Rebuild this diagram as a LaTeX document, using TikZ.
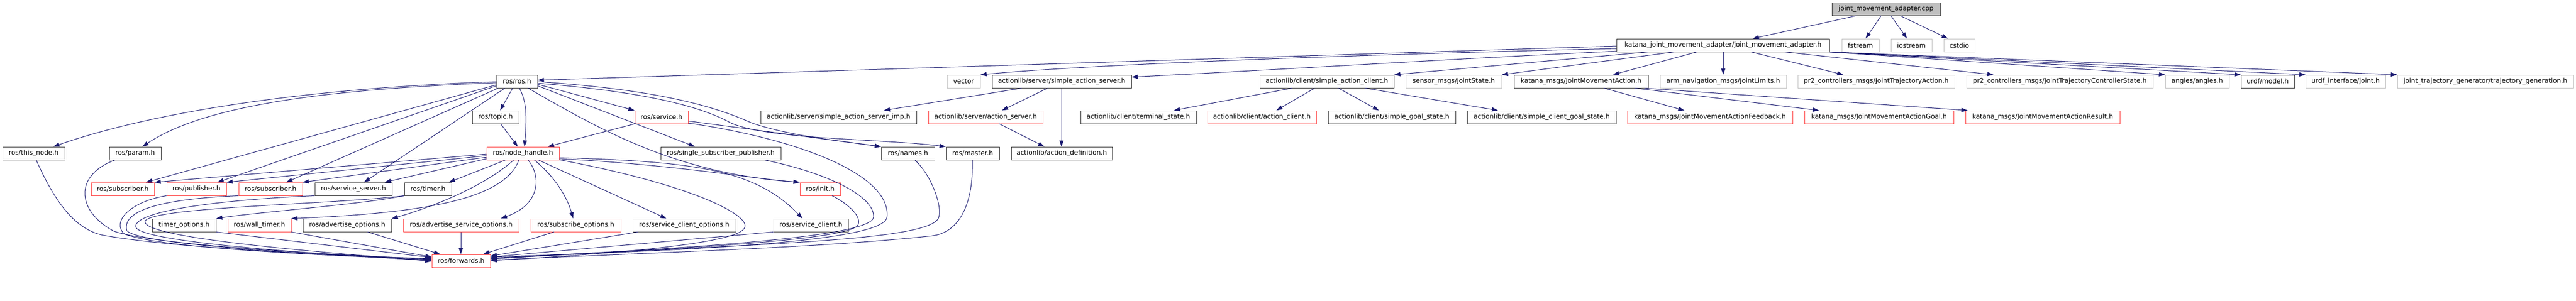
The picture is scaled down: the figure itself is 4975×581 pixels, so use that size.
\documentclass[tikz,border=0pt]{standalone}
\usepackage{fontspec}
\setmainfont{DejaVu Sans}
\usetikzlibrary{arrows.meta,calc}
\definecolor{edgec}{HTML}{191970}
\definecolor{redc}{HTML}{FF3A3A}
\definecolor{extc}{HTML}{C0C0C0}
\definecolor{blkc}{HTML}{303030}
\definecolor{rootfill}{HTML}{BFBFBF}
\newcommand{\nd}[6]{\node[#5, minimum width={(#3-#2)*1pt}] (#1) at ({(#2+#3)/2},{#4+12.5}) {#6};}
\begin{document}
\begin{tikzpicture}[x=1pt,y=-1pt,
  box/.style={draw, rectangle, minimum height=25pt, inner sep=0pt, line width=1pt,
    font=\fontsize{12.6pt}{15pt}\selectfont},
  blk/.style={box, draw=blkc},
  redb/.style={box, draw=redc},
  ext/.style={box, draw=extc},
  root/.style={box, draw=blkc, fill=rootfill},
  dep/.style={draw=edgec, line width=1pt, -{Triangle[length=12pt,width=8pt]}, edgec, line join=round}]
\useasboundingbox[fill=white] (0,0) rectangle (4975,581);
% row 0
\nd{cpp}{3538}{3747}{5}{root}{joint\_movement\_adapter.cpp}
% row 1
\nd{jma}{3122}{3533}{75}{blk}{katana\_joint\_movement\_adapter/joint\_movement\_adapter.h}
\nd{fstream}{3557}{3629}{75}{ext}{fstream}
\nd{iostream}{3652}{3731}{75}{ext}{iostream}
\nd{cstdio}{3754}{3814}{75}{ext}{cstdio}
% row 2
\nd{ros}{959}{1038}{145}{blk}{ros/ros.h}
\nd{vector}{1829}{1893}{145}{ext}{vector}
\nd{sas}{1916}{2185}{145}{blk}{actionlib/server/simple\_action\_server.h}
\nd{sac}{2433}{2692}{145}{blk}{actionlib/client/simple\_action\_client.h}
\nd{jstate}{2715}{2900}{145}{ext}{sensor\_msgs/JointState.h}
\nd{jmact}{2924}{3183}{145}{blk}{katana\_msgs/JointMovementAction.h}
\nd{jlim}{3206}{3450}{145}{ext}{arm\_navigation\_msgs/JointLimits.h}
\nd{jta}{3472}{3775}{145}{ext}{pr2\_controllers\_msgs/JointTrajectoryAction.h}
\nd{jtcs}{3798}{4158}{145}{ext}{pr2\_controllers\_msgs/JointTrajectoryControllerState.h}
\nd{angles}{4182}{4305}{145}{ext}{angles/angles.h}
\nd{urdfm}{4328}{4431}{145}{blk}{urdf/model.h}
\nd{urdfj}{4453}{4607}{145}{ext}{urdf\_interface/joint.h}
\nd{jtg}{4630}{4970}{145}{ext}{joint\_trajectory\_generator/trajectory\_generation.h}
% row 3
\nd{topic}{912}{1002}{214}{blk}{ros/topic.h}
\nd{service}{1226}{1329}{214}{redb}{ros/service.h}
\nd{sasimp}{1469}{1770}{214}{blk}{actionlib/server/simple\_action\_server\_imp.h}
\nd{aserver}{1793}{2014}{214}{redb}{actionlib/server/action\_server.h}
\nd{tstate}{2087}{2310}{214}{blk}{actionlib/client/terminal\_state.h}
\nd{aclient}{2332}{2542}{214}{redb}{actionlib/client/action\_client.h}
\nd{sgstate}{2565}{2811}{214}{blk}{actionlib/client/simple\_goal\_state.h}
\nd{scgstate}{2834}{3121}{214}{blk}{actionlib/client/simple\_client\_goal\_state.h}
\nd{feedback}{3143}{3462}{214}{redb}{katana\_msgs/JointMovementActionFeedback.h}
\nd{goal}{3485}{3773}{214}{redb}{katana\_msgs/JointMovementActionGoal.h}
\nd{result}{3796}{4094}{214}{redb}{katana\_msgs/JointMovementActionResult.h}
% row 4
\nd{thisnode}{5}{125}{284}{blk}{ros/this\_node.h}
\nd{param}{211}{311}{284}{blk}{ros/param.h}
\nd{nh}{940}{1080}{284}{redb}{ros/node\_handle.h}
\nd{ssp}{1276}{1508}{284}{blk}{ros/single\_subscriber\_publisher.h}
\nd{names}{1702}{1805}{284}{blk}{ros/names.h}
\nd{master}{1827}{1930}{284}{blk}{ros/master.h}
\nd{adef}{1953}{2148}{284}{blk}{actionlib/action\_definition.h}
% row 5
\nd{subA}{176}{298}{353}{redb}{ros/subscriber.h}
\nd{pub}{322}{437}{353}{redb}{ros/publisher.h}
\nd{subB}{461}{584}{353}{redb}{ros/subscriber.h}
\nd{ssrv}{608}{757}{353}{blk}{ros/service\_server.h}
\nd{timer}{781}{872}{353}{blk}{ros/timer.h}
\nd{init}{1545}{1623}{353}{redb}{ros/init.h}
% row 6
\nd{topt}{294}{417}{423}{blk}{timer\_options.h}
\nd{wtimer}{440}{562}{423}{redb}{ros/wall\_timer.h}
\nd{aopt}{585}{756}{423}{blk}{ros/advertise\_options.h}
\nd{asopt}{779}{1002}{423}{redb}{ros/advertise\_service\_options.h}
\nd{subopt}{1025}{1199}{423}{redb}{ros/subscribe\_options.h}
\nd{scopt}{1222}{1421}{423}{blk}{ros/service\_client\_options.h}
\nd{sclient}{1494}{1638}{423}{blk}{ros/service\_client.h}
% row 7
\nd{fwd}{834}{947}{492}{redb}{ros/forwards.h}

% ---- edges from root
\draw[dep] (3585,0 |- cpp.south) -- (3385,0 |- jma.north);
\draw[dep] (3633,0 |- cpp.south) -- (3603,0 |- fstream.north);
\draw[dep] (3652,0 |- cpp.south) -- (3683,0 |- iostream.north);
\draw[dep] (3670,0 |- cpp.south) -- (3762,0 |- cstdio.north);
% ---- edges from jma
\draw[dep] (jma.west |- 0,89) -- (ros.east |- 0,155);
\draw[dep] (jma.west |- 0,94) .. controls (2600,106) and (2100,125) .. (vector.north east);
\draw[dep] (jma.west |- 0,99) .. controls (2800,114) and (2450,136) .. (sas.east |- 0,149);
\draw[dep] (3183,0 |- jma.south) -- (sac.north east);
\draw[dep] (3233,0 |- jma.south) -- (jstate.north east);
\draw[dep] (3277,0 |- jma.south) -- (3115,0 |- jmact.north);
\draw[dep] (3328,0 |- jma.south) -- (3328,0 |- jlim.north);
\draw[dep] (3382,0 |- jma.south) -- (3560,0 |- jta.north);
\draw[dep] (3447,0 |- jma.south) -- (3850,0 |- jtcs.north);
\draw[dep] (jma.south east) -- (angles.north west);
\draw[dep] (jma.south east) -- (urdfm.north west);
\draw[dep] (jma.south east) -- (urdfj.north west);
\draw[dep] (jma.south east) -- (jtg.north west);
% ---- sas, sac, jmact
\draw[dep] (1973,0 |- sas.south) -- (1707,0 |- sasimp.north);
\draw[dep] (2023,0 |- sas.south) -- (1935,0 |- aserver.north);
\draw[dep] (2050,0 |- sas.south) -- (2050,0 |- adef.north);
\draw[dep] (1930,0 |- aserver.south) -- (2017,0 |- adef.north);
\draw[dep] (2495,0 |- sac.south) -- (2267,0 |- tstate.north);
\draw[dep] (2539,0 |- sac.south) -- (2465,0 |- aclient.north);
\draw[dep] (2585,0 |- sac.south) -- (2663,0 |- sgstate.north);
\draw[dep] (2637,0 |- sac.south) -- (2893,0 |- scgstate.north);
\draw[dep] (3098,0 |- jmact.south) -- (3253,0 |- feedback.north);
\draw[dep] (3158,0 |- jmact.south) -- (3513,0 |- goal.north);
\draw[dep] (3176,0 |- jmact.south) -- (3800,0 |- result.north);
% ---- ros.h
\draw[dep] (ros.west |- 0,158) .. controls (600,170) and (300,215) .. (103,0 |- thisnode.north);
\draw[dep] (ros.west |- 0,160) .. controls (650,172) and (400,200) .. (275,0 |- param.north);
\draw[dep] (ros.west |- 0,164) -- (282,0 |- subA.north);
\draw[dep] (ros.west |- 0,166) -- (420,0 |- pub.north);
\draw[dep] (962,0 |- ros.south) -- (553,0 |- subB.north);
\draw[dep] (975,0 |- ros.south) -- (703,0 |- ssrv.north);
\draw[dep] (990,0 |- ros.south) -- (966,0 |- topic.north);
\draw[dep] (1003,0 |- ros.south) .. controls (1020,200) and (1016,240) .. (1013,0 |- nh.north);
\draw[dep] (ros.east |- 0,163) -- (service.north west);
\draw[dep] (ros.east |- 0,166) -- (1342,0 |- ssp.north);
\draw[dep] (1020,0 |- ros.south) .. controls (1150,245) and (1300,335) .. (init.north west);
\draw[dep] (ros.east |- 0,158) .. controls (1300,175) and (1400,215) .. (1450,237) .. controls (1520,262) and (1620,272) .. (names.north west);
\draw[dep] (ros.east |- 0,161) .. controls (1280,180) and (1370,215) .. (1410,237) .. controls (1480,270) and (1700,268) .. (master.north west);
\draw[dep] (967,0 |- topic.south) -- (1000,0 |- nh.north);
% ---- service.h
\draw[dep] (service.south west) -- (1058,0 |- nh.north);
\draw[dep] (service.east |- 0,234) -- (names.north west);
\draw[dep] (service.east |- 0,238) .. controls (1550,270) and (1722,340) .. (1713,420) .. controls (1706,470) and (1300,485) .. (fwd.east |- 0,497);
% ---- loops to forwards from the right
\draw[dep] (1477,0 |- ssp.south) .. controls (1600,335) and (1690,380) .. (1687,420) .. controls (1684,460) and (1300,482) .. (fwd.east |- 0,499);
\draw[dep] (1607,0 |- init.south) .. controls (1640,395) and (1665,420) .. (1657,435) .. controls (1640,465) and (1300,482) .. (fwd.east |- 0,500);
\draw[dep] (1767,0 |- names.south) .. controls (1800,340) and (1820,400) .. (1813,420) .. controls (1800,470) and (1400,472) .. (fwd.east |- 0,501);
\draw[dep] (1878,0 |- master.south) .. controls (1880,400) and (1850,450) .. (1800,456) .. controls (1600,478) and (1300,487) .. (fwd.east |- 0,503);
% ---- node_handle
\draw[dep] (nh.west |- 0,298) -- (subA.north east);
\draw[dep] (nh.west |- 0,301) -- (pub.north east);
\draw[dep] (nh.west |- 0,304) -- (subB.north east);
\draw[dep] (nh.west |- 0,307) -- (743,0 |- ssrv.north);
\draw[dep] (976,0 |- nh.south) -- (867,0 |- timer.north);
\draw[dep] (992,0 |- nh.south) .. controls (930,365) and (820,405) .. (aopt.north east);
\draw[dep] (1002,0 |- nh.south) .. controls (975,385) and (820,412) .. (wtimer.north east);
\draw[dep] (1020,0 |- nh.south) .. controls (1045,340) and (1045,395) .. (967,0 |- asopt.north);
\draw[dep] (1032,0 |- nh.south) .. controls (1070,340) and (1095,380) .. (1107,0 |- subopt.north);
\draw[dep] (1040,0 |- nh.south) -- (1287,0 |- scopt.north);
\draw[dep] (nh.east |- 0,305) .. controls (1350,312) and (1460,330) .. (1550,0 |- sclient.north);
\draw[dep] (nh.east |- 0,307) .. controls (1300,318) and (1450,345) .. (init.north west);
\draw[dep] (nh.east |- 0,309) .. controls (1350,360) and (1455,420) .. (1437,442) .. controls (1420,470) and (1200,490) .. (fwd.east |- 0,504);
% ---- left side to forwards
\draw[dep] (70,0 |- thisnode.south) .. controls (110,400) and (150,445) .. (200,455) .. controls (350,482) and (700,496) .. (fwd.west |- 0,500);
\draw[dep] (222,0 |- param.south) .. controls (140,340) and (150,410) .. (220,447) .. controls (300,476) and (700,495) .. (fwd.west |- 0,501);
\draw[dep] (pub.south west) .. controls (250,390) and (215,430) .. (240,452) .. controls (300,480) and (650,495) .. (fwd.west |- 0,502);
\draw[dep] (subB.south west) .. controls (300,385) and (235,410) .. (245,446) .. controls (270,475) and (650,494) .. (fwd.west |- 0,503);
\draw[dep] (ssrv.south west) .. controls (450,385) and (262,405) .. (262,438) .. controls (265,470) and (650,493) .. (fwd.west |- 0,504);
\draw[dep] (timer.south west) .. controls (650,395) and (290,400) .. (280,428) .. controls (275,462) and (650,490) .. (fwd.west |- 0,505);
\draw[dep] (timer.south west) .. controls (700,395) and (500,410) .. (topt.north east);
\draw[dep] (topt.south east) -- (fwd.west |- 0,498);
\draw[dep] (wtimer.south east) -- (fwd.west |- 0,497);
\draw[dep] (710,0 |- aopt.south) -- (850,0 |- fwd.north);
\draw[dep] (890,0 |- asopt.south) -- (890,0 |- fwd.north);
\draw[dep] (1070,0 |- subopt.south) -- (933,0 |- fwd.north);
\draw[dep] (1232,0 |- scopt.south) -- (fwd.east |- 0,495);
\draw[dep] (sclient.south west) -- (fwd.east |- 0,497);
\end{tikzpicture}
\end{document}
